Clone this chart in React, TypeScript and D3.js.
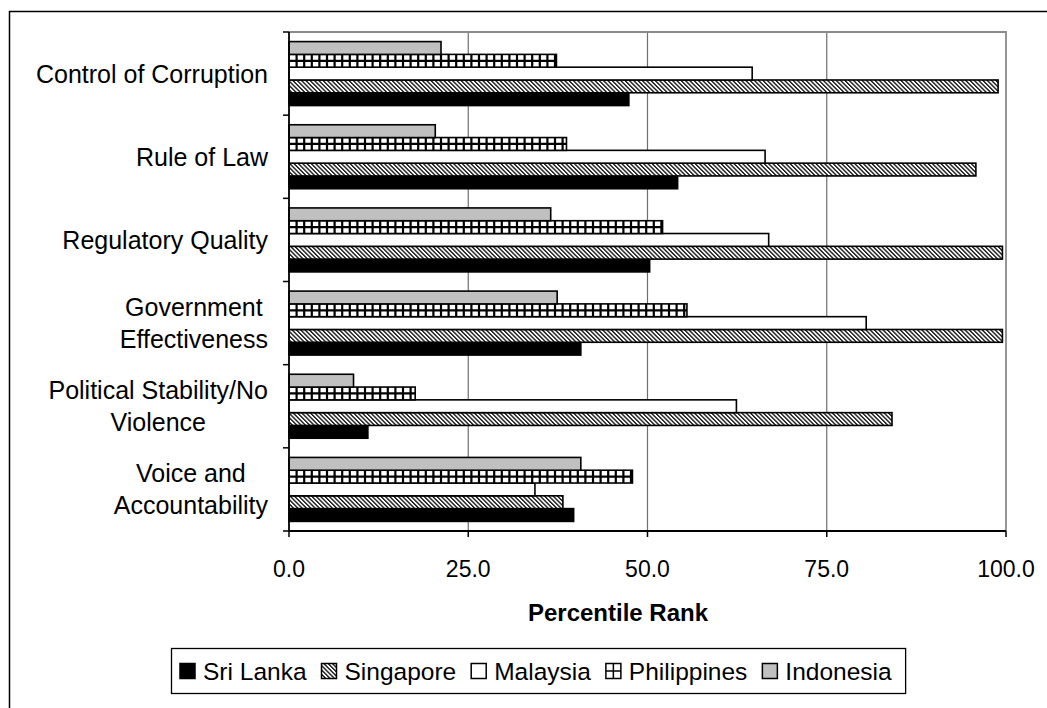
import React from "react";
import * as d3 from "d3";

// Governance indicators, listed top to bottom
const categories = [
  "Control of Corruption",
  "Rule of Law",
  "Regulatory Quality",
  "Government Effectiveness",
  "Political Stability/No Violence",
  "Voice and Accountability",
];
const categoryLines = [
  ["Control of Corruption"],
  ["Rule of Law"],
  ["Regulatory Quality"],
  ["Government", "Effectiveness"],
  ["Political Stability/No", "Violence"],
  ["Voice and", "Accountability"],
];

// Percentile rank per indicator, in the order of `categories`
const sriLanka = [47.4, 54.2, 50.3, 40.7, 11.0, 39.7];
const singapore = [98.9, 95.8, 99.5, 99.5, 84.1, 38.2];
const malaysia = [64.6, 66.4, 66.9, 80.5, 62.4, 34.3];
const philippines = [37.3, 38.7, 52.1, 55.5, 17.6, 47.9];
const indonesia = [21.2, 20.4, 36.5, 37.4, 9.0, 40.7];

const legendNames = ["Sri Lanka", "Singapore", "Malaysia", "Philippines", "Indonesia"];
const xTicks = [0, 25, 50, 75, 100];

type Fill = "solid" | "hatch" | "white" | "grid" | "gray";
const seriesList: { name: string; values: number[]; fill: Fill }[] = [
  { name: "Sri Lanka", values: sriLanka, fill: "solid" },
  { name: "Singapore", values: singapore, fill: "hatch" },
  { name: "Malaysia", values: malaysia, fill: "white" },
  { name: "Philippines", values: philippines, fill: "grid" },
  { name: "Indonesia", values: indonesia, fill: "gray" },
];

const FONT = "'Liberation Sans', Arial, Helvetica, sans-serif";
const W = 1047;
const H = 708;
const plot = { left: 289, right: 1006, top: 32, bottom: 531 };

function fillFor(f: Fill) {
  if (f === "solid") return "#000";
  if (f === "hatch") return "url(#hatch)";
  if (f === "gray") return "#c0c0c0";
  return "#fff";
}

function measure(text: string, font: string) {
  if (typeof document === "undefined") return text.length * 12;
  const c = document.createElement("canvas").getContext("2d");
  if (!c) return text.length * 12;
  c.font = font;
  return c.measureText(text).width;
}

export default function App() {
  const x = d3.scaleLinear().domain([0, 100]).range([plot.left, plot.right]);
  const y = d3.scaleBand<string>().domain(categories).range([plot.top, plot.bottom]);
  // within a category, Indonesia sits on top and Sri Lanka at the bottom
  const inner = d3
    .scaleBand<string>()
    .domain(seriesList.map((s) => s.name).reverse())
    .range([0, y.bandwidth()])
    .paddingInner(0)
    .paddingOuter(0.75);
  const bh = inner.bandwidth();

  const gridStep = 7.6;

  const labelSize = 25;
  const labelFont = `${labelSize}px ${FONT}`;
  const labelRight = 268;

  // legend layout
  const legendFont = `24.5px ${FONT}`;
  const markerSize = 15;
  let cursor = 180;
  const legendItems = legendNames.map((name) => {
    const s = seriesList.find((d) => d.name === name)!;
    const mx = cursor;
    const tx = mx + markerSize + 8;
    const tw = measure(name, legendFont);
    cursor = tx + tw + 15;
    return { name, fill: s.fill, mx, tx };
  });
  const legendRight = cursor - 1;
  const legendY = 671;

  return (
    <svg
      width={W}
      height={H}
      style={{ position: "absolute", left: 0, top: 0, background: "#fff" }}
      fontFamily={FONT}
    >
      <defs>
        <pattern
          id="hatch"
          patternUnits="userSpaceOnUse"
          width={3.05}
          height={10}
          patternTransform="rotate(-45)"
        >
          <rect width={3.05} height={10} fill="#fff" />
          <rect width={1.4} height={10} fill="#1a1a1a" />
        </pattern>
      </defs>

      {/* outer chart frame */}
      <rect x={9.5} y={11.5} width={W + 20} height={H + 20} fill="#fff" stroke="#000" strokeWidth={1.5} />

      {/* gridlines */}
      {xTicks.slice(1, -1).map((t) => (
        <line key={t} x1={x(t)} x2={x(t)} y1={plot.top} y2={plot.bottom} stroke="#6e6e6e" strokeWidth={1.2} />
      ))}
      {/* plot border (top/right) */}
      <path
        d={`M${plot.left},${plot.top}H${plot.right}V${plot.bottom}`}
        fill="none"
        stroke="#8a8a8a"
        strokeWidth={1.8}
      />

      {/* bars */}
      {categories.map((cat, ci) => (
        <g key={cat}>
          {seriesList.map((s) => {
            const y0 = (y(cat) as number) + (inner(s.name) as number);
            const x0 = x(0);
            const x1 = x(s.values[ci]);
            const w = x1 - x0;
            let deco: React.ReactNode = null;
            if (s.fill === "grid") {
              const ticks = d3.range(x0 + gridStep, x1 - 1, gridStep);
              const d =
                ticks.map((tx) => `M${tx},${y0}V${y0 + bh}`).join("") +
                `M${x0},${y0 + bh / 2}H${x1}`;
              deco = <path d={d} stroke="#000" strokeWidth={2.2} fill="none" />;
            }
            return (
              <g key={s.name}>
                <rect x={x0} y={y0} width={w} height={bh} fill={fillFor(s.fill)} />
                {deco}
                <rect x={x0} y={y0} width={w} height={bh} fill="none" stroke="#000" strokeWidth={1.6} />
              </g>
            );
          })}
        </g>
      ))}

      {/* axes */}
      <line x1={plot.left} x2={plot.left} y1={plot.top} y2={plot.bottom} stroke="#000" strokeWidth={1.8} />
      <line x1={plot.left} x2={plot.right} y1={plot.bottom} y2={plot.bottom} stroke="#000" strokeWidth={1.8} />
      {categories.map((c) => (
        <line key={c} x1={plot.left - 6} x2={plot.left} y1={y(c)} y2={y(c)} stroke="#000" strokeWidth={1.5} />
      ))}
      <line x1={plot.left - 6} x2={plot.left} y1={plot.bottom} y2={plot.bottom} stroke="#000" strokeWidth={1.5} />
      {xTicks.map((t) => (
        <g key={t}>
          <line x1={x(t)} x2={x(t)} y1={plot.bottom} y2={plot.bottom + 6} stroke="#000" strokeWidth={1.5} />
          <text x={x(t)} y={569} textAnchor="middle" dominantBaseline="central" fontSize={23} fill="#000">
            {t.toFixed(1)}
          </text>
        </g>
      ))}

      {/* category labels: wrapped lines are centred on each other, block sits against the axis */}
      {categories.map((c, i) => {
        const lines = categoryLines[i];
        const cy = (y(c) as number) + y.bandwidth() / 2;
        const lh = 32;
        const blockW = Math.max(...lines.map((ln) => measure(ln, labelFont)));
        const cx = labelRight - blockW / 2;
        return (
          <text key={c} fontSize={labelSize} fill="#000" textAnchor="middle">
            {lines.map((ln, j) => (
              <tspan key={j} x={cx} y={cy + (j - (lines.length - 1) / 2) * lh} dominantBaseline="central">
                {ln}
              </tspan>
            ))}
          </text>
        );
      })}

      {/* axis title */}
      <text x={618} y={612} textAnchor="middle" dominantBaseline="central" fontSize={24} fontWeight="bold" fill="#000">
        Percentile Rank
      </text>

      {/* legend */}
      <rect x={171.5} y={648.5} width={legendRight - 171.5} height={45} fill="#fff" stroke="#000" strokeWidth={1.3} />
      {legendItems.map((it) => {
        const my = legendY - markerSize / 2;
        let deco: React.ReactNode = null;
        if (it.fill === "grid") {
          deco = (
            <path
              d={`M${it.mx + markerSize / 2},${my}V${my + markerSize}M${it.mx},${my + markerSize / 2}H${it.mx + markerSize}`}
              stroke="#000"
              strokeWidth={1.5}
            />
          );
        }
        return (
          <g key={it.name}>
            <rect
              x={it.mx}
              y={my}
              width={markerSize}
              height={markerSize}
              fill={fillFor(it.fill)}
              stroke="#000"
              strokeWidth={1.5}
            />
            {deco}
            <text x={it.tx} y={legendY} dominantBaseline="central" fontSize={24.5} fill="#000">
              {it.name}
            </text>
          </g>
        );
      })}
    </svg>
  );
}
